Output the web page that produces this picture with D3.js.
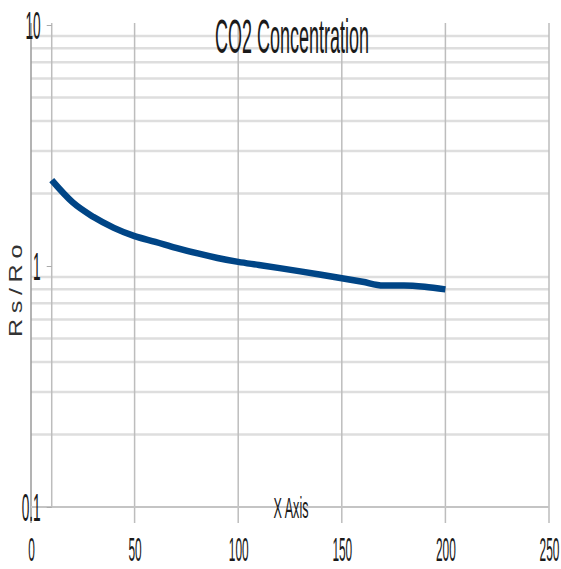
<!DOCTYPE html>
<html lang="en">

<head>
    <meta charset="UTF-8" />
    <title>CO2 Concentration</title>
    <script type="text/javascript" src="https://cdn.jsdelivr.net/npm/d3@7"></script>
    <style>
        body { margin: 0; background: #fff; }
        text { font-family: "Liberation Sans", Arial, sans-serif; fill: #1a1a1a; }
    </style>
</head>

<body>
    <div id="chart"></div>
    <script type="text/javascript">
        // data
        var xValues = [10, 20, 30, 40, 50, 60, 70, 80, 90, 100, 110, 120, 130, 140, 150, 160, 170, 180, 190, 200];
        var ratioValues = [2.27, 1.84, 1.6, 1.44, 1.33, 1.26, 1.19, 1.13, 1.08, 1.04, 1.01, 0.98, 0.95, 0.92, 0.89, 0.86, 0.83, 0.83, 0.82, 0.8];
        var xTicks = [0, 50, 100, 150, 200, 250];
        var yTicks = [0.1, 1, 10];
        var yMinor = [0.2, 0.3, 0.4, 0.5, 0.6, 0.7, 0.8, 0.9, 2, 3, 4, 5, 6, 7, 8, 9];

        var width = 561, height = 569;
        var sx = 0.36; // labels are squeezed horizontally

        var svg = d3.select("#chart")
            .append("svg")
            .attr("width", width)
            .attr("height", height);

        var x = d3.scaleLinear().domain([0, 250]).range([31, 549]);
        var y = d3.scaleLog().domain([0.1, 10]).range([507, 25]);

        // horizontal minor gridlines
        svg.append("g")
            .selectAll("line")
            .data(yMinor)
            .join("line")
            .attr("x1", x(0))
            .attr("x2", x(250))
            .attr("y1", d => y(d))
            .attr("y2", d => y(d))
            .attr("stroke", "#dedede")
            .attr("stroke-width", 2.5);

        // vertical gridlines, running past the bottom as ticks
        svg.append("g")
            .selectAll("line")
            .data(xTicks)
            .join("line")
            .attr("x1", d => x(d))
            .attr("x2", d => x(d))
            .attr("y1", 23)
            .attr("y2", 523)
            .attr("stroke", d => d == 0 ? "#9a9a9a" : "#bdbdbd")
            .attr("stroke-width", 1.5);

        // x axis line at 0.1
        svg.append("line")
            .attr("x1", x(0))
            .attr("x2", x(250))
            .attr("y1", y(0.1))
            .attr("y2", y(0.1))
            .attr("stroke", "#c4c4c4")
            .attr("stroke-width", 2);

        // x tick labels
        var xAxis = svg.append("g")
            .attr("transform", `translate(0, 561)`)
            .call(d3.axisBottom(x).tickValues(xTicks).tickSize(0).tickPadding(0));
        xAxis.select(".domain").remove();
        xAxis.selectAll("text")
            .attr("y", 0)
            .attr("dy", 0)
            .attr("transform", `scale(${sx},1)`)
            .style("font-size", "33px")
            .style("fill", "#1a1a1a");

        // y axis sits at x = 10
        var yAxis = svg.append("g")
            .attr("transform", `translate(${x(10)}, 0)`)
            .call(d3.axisLeft(y).tickValues(yTicks).tickSize(5).tickPadding(0).tickSizeOuter(0).tickFormat(d3.format("")));
        yAxis.select(".domain").attr("stroke", "#bdbdbd").attr("stroke-width", 1.5)
            .attr("d", `M0,23V${y(0.1)}`);
        yAxis.selectAll(".tick line").attr("stroke", "#aaa");
        yAxis.selectAll("text")
            .attr("x", -11 / sx)
            .attr("dy", "0.36em")
            .attr("transform", `scale(${sx},1)`)
            .style("font-size", "38px")
            .style("fill", "#1a1a1a");

        // the curve
        var line = d3.line()
            .x((d, i) => x(xValues[i]))
            .y(d => y(d))
            .curve(d3.curveMonotoneX);

        svg.append("path")
            .datum(ratioValues)
            .attr("fill", "none")
            .attr("stroke", "#004586")
            .attr("stroke-width", 6.5)
            .attr("d", line);

        // title
        svg.append("text")
            .attr("transform", "translate(292, 53) scale(0.375,1)")
            .attr("text-anchor", "middle")
            .style("font-size", "48px")
            .text("CO2 Concentration");

        // axis titles
        svg.append("text")
            .attr("transform", "translate(291, 518) scale(0.42,1)")
            .attr("text-anchor", "middle")
            .style("font-size", "30px")
            .text("X Axis");

        svg.append("text")
            .attr("transform", "translate(22, 288) rotate(-90) scale(1.4, 1)")
            .attr("text-anchor", "middle")
            .style("font-size", "18px")
            .style("letter-spacing", "4px")
            .style("fill", "#333")
            .text("Rs/Ro");
    </script>
</body>

</html>
